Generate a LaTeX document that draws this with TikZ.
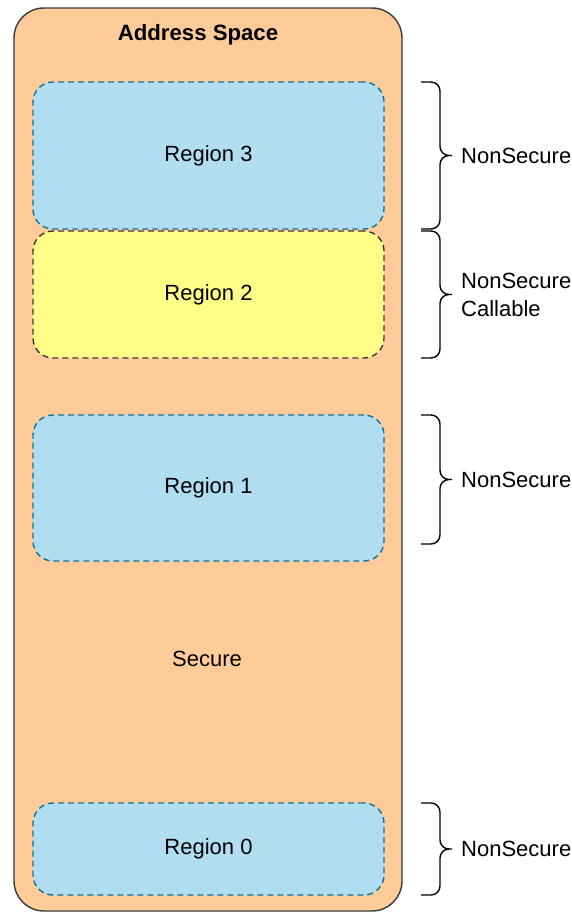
\documentclass[tikz,border=0pt]{standalone}
\usepackage{fontspec}
\setmainfont{Liberation Sans}
\usetikzlibrary{positioning,calc}

\definecolor{spacefill}{HTML}{FFCC99}
\definecolor{spacedraw}{HTML}{36393D}
\definecolor{nsfill}{HTML}{B1DDF0}
\definecolor{nsdraw}{HTML}{10739E}
\definecolor{nscfill}{HTML}{FFFF88}

\begin{document}
\begin{tikzpicture}[
    x=1pt, y=-1pt,
    font=\fontsize{22}{28}\selectfont,
    space/.style={rectangle, rounded corners=30pt, draw=spacedraw, fill=spacefill, line width=1.4pt, minimum width=388pt, minimum height=903pt},
    region/.style={rectangle, rounded corners=20pt, draw=nsdraw, fill=nsfill, line width=1.4pt, dash pattern=on 6pt off 4pt, minimum width=351pt},
    callable/.style={region, draw=spacedraw, fill=nscfill},
    secnote/.style={anchor=west, align=left, inner sep=0pt},
    curly/.style={draw, line width=1.4pt, rounded corners=9pt}
]
\useasboundingbox (0,0) rectangle (572,913);

% Address space
\node[space] (space) at (208,459.5) {};
\node[font=\fontsize{22.2}{28}\selectfont\bfseries] (title) at (198,35) {Address Space};

% Regions
\node[region, minimum height=147pt] (r3) at (208.5,155.5) {Region 3};
\node[callable, minimum height=127pt] (r2) at (208.5,294.5) {Region 2};
\node[region, minimum height=146pt] (r1) at (208.5,488) {Region 1};
\node[region, minimum height=92pt] (r0) at (208.5,849) {Region 0};
\node (secure) at (207,659) {Secure};

% Braces
\foreach \top/\bot/\name/\txt in {82/229/ns3/NonSecure, 231/358/nsc2/{NonSecure\\Callable}, 415/544/ns1/NonSecure, 803/895/ns0/NonSecure} {
  \pgfmathsetmacro\mid{(\top+\bot)/2}
  \draw[curly] (421,\top) -| (440,\mid) -- (452,\mid) (421,\bot) -| (440,\mid) -- (452,\mid);
  \node[secnote] (\name) at (461,\mid) {\txt};
}

\end{tikzpicture}
\end{document}
